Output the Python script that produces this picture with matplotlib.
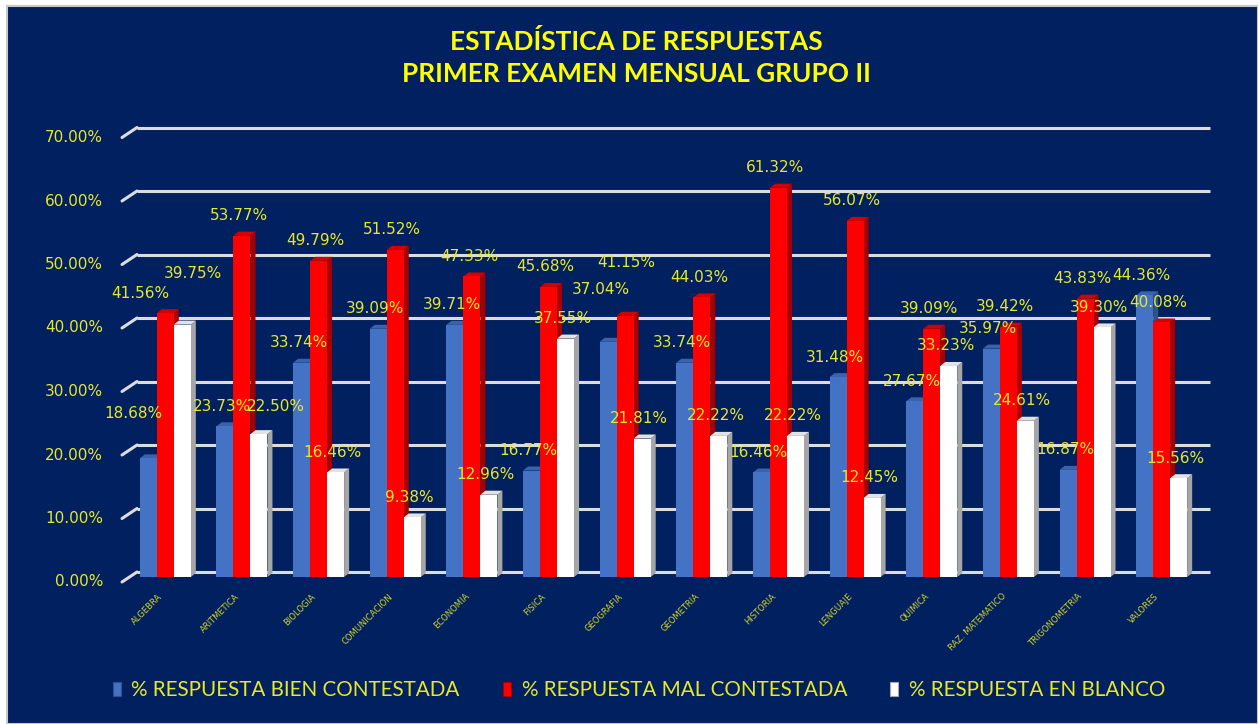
import matplotlib
matplotlib.use('Agg')
import matplotlib.pyplot as plt
from matplotlib.patches import Polygon, Rectangle, Patch
from matplotlib.transforms import ScaledTranslation

# ---------------- data ----------------
categories = ['ALGEBRA', 'ARITMETICA', 'BIOLOGIA', 'COMUNICACIÓN', 'ECONOMIA', 'FISICA',
              'GEOGRAFIA', 'GEOMETRIA', 'HISTORIA', 'LENGUAJE', 'QUIMICA',
              'RAZ. MATEMATICO', 'TRIGONOMETRIA', 'VALORES']
bien = [18.68, 23.73, 33.74, 39.09, 39.71, 16.77, 37.04, 33.74, 16.46, 31.48, 27.67, 35.97, 16.87, 44.36]
mal = [41.56, 53.77, 49.79, 51.52, 47.33, 45.68, 41.15, 44.03, 61.32, 56.07, 39.09, 39.42, 43.83, 40.08]
blanco = [39.75, 22.50, 16.46, 9.38, 12.96, 37.55, 21.81, 22.22, 22.22, 12.45, 33.23, 24.61, 39.30, 15.56]
series_names = ['% RESPUESTA BIEN CONTESTADA', '% RESPUESTA MAL CONTESTADA', '% RESPUESTA EN BLANCO']
yticks = [0, 10, 20, 30, 40, 50, 60, 70]
title_lines = ['ESTADÍSTICA DE RESPUESTAS', 'PRIMER EXAMEN MENSUAL GRUPO II']

# ---------------- style ----------------
W, H, DPI = 1258, 724, 100
NAVY = '#002060'
YEL = '#FFFF00'
LAB = '#E8E82A'
GRID = '#DCDCDC'
front_cols = ['#4472C4', '#FF0000', '#FFFFFF']
side_cols = ['#2F528F', '#A80000', '#A6A6A6']
top_cols = ['#3A63AC', '#D40000', '#E2E2E2']
# manual label nudges (image px, +y = down) for labels moved in the original
nudges = {(0, 0): (-12, -25), (0, 1): (-22, 0), (0, 2): (14, -31), (1, 2): (20, -8),
          (6, 0): (-4, -32), (6, 1): (4, -33)}

fig = plt.figure(figsize=(W / DPI, H / DPI), dpi=DPI)
fig.patch.set_facecolor('white')
fig.add_artist(Rectangle((7 / W, 0), (W - 7) / W, (H - 6) / H, transform=fig.transFigure,
                         facecolor=NAVY, edgecolor='#C8C8C8', lw=1.5, zorder=0))

x0, x1, y0, y1 = 137, 1210, 572, 127.5
ax = fig.add_axes([x0 / W, 1 - y0 / H, (x1 - x0) / W, (y0 - y1) / H])
ax.set_xlim(-0.5, 13.5)
ax.set_ylim(0, 70)
ax.axis('off')
px_x = (x1 - x0) / 14.0
px_y = (y0 - y1) / 70.0

# gridlines (back wall) + left diagonal + tick labels
for v in yticks:
    ax.plot([-0.5, 13.5], [v, v], color=GRID, lw=2.2, zorder=1, solid_capstyle='butt', clip_on=False)
    ax.annotate('', xy=(-0.5, v), xytext=(-15, -10), textcoords='offset pixels',
                arrowprops=dict(arrowstyle='-', color=GRID, lw=2.2, shrinkA=0, shrinkB=0),
                annotation_clip=False)
    ax.annotate(f'{v:.2f}%', xy=(-0.5, v), xytext=(-34, -10), textcoords='offset pixels',
                ha='right', va='center', fontsize=11, color=LAB, annotation_clip=False)

front = ax.transData + ScaledTranslation(-10 / DPI, -5 / DPI, fig.dpi_scale_trans)
bw = 17 / px_x
ddx, ddy = 5 / px_x, 4 / px_y
offsets = [-bw, 0.0, bw]
series = [bien, mal, blanco]
xs = list(range(len(categories)))

for s, vals in enumerate(series):
    bars = ax.bar([x + offsets[s] for x in xs], vals, width=bw, color=front_cols[s],
                  transform=front, linewidth=0, label=series_names[s], clip_on=False)
    for i, (patch, v) in enumerate(zip(bars.patches, vals)):
        z = 2 + (i * 3 + s) * 0.01
        patch.set_zorder(z)
        xc = i + offsets[s]
        xl, xr = xc - bw / 2, xc + bw / 2
        ax.add_patch(Polygon([(xr, 0), (xr, v), (xr + ddx, v + ddy), (xr + ddx, ddy)],
                             closed=True, facecolor=side_cols[s], lw=0, transform=front,
                             zorder=z - 0.003, clip_on=False))
        ax.add_patch(Polygon([(xl, v), (xr, v), (xr + ddx, v + ddy), (xl + ddx, v + ddy)],
                             closed=True, facecolor=top_cols[s], lw=0, transform=front,
                             zorder=z - 0.002, clip_on=False))
        nx, ny = nudges.get((i, s), (0, 0))
        ax.annotate(f'{v:.2f}%', xy=(xc, v), xycoords=front, xytext=(-3 + nx, 20 - ny),
                    textcoords='offset pixels', ha='center', va='center', fontsize=11,
                    color=LAB, zorder=10, annotation_clip=False)

for i, cat in enumerate(categories):
    ax.annotate(cat, xy=(i, 0), xycoords=front, xytext=(-4, -18), textcoords='offset pixels',
                rotation=45, rotation_mode='anchor', ha='right', va='center', fontsize=6,
                color='#D4D428', annotation_clip=False)

renderer = fig.canvas.get_renderer()


def fit_size(text, target_px, **kw):
    t = fig.text(0, 0, text, fontsize=10, **kw)
    w = t.get_window_extent(renderer).width
    t.remove()
    return 10 * target_px / w


tsize = fit_size(title_lines[0], 372, family='Lato', fontweight='bold')
fig.text(636 / W, 1 - 41 / H, title_lines[0], ha='center', va='center', fontsize=tsize,
         family='Lato', fontweight='bold', color=YEL)
fig.text(636 / W, 1 - 74 / H, title_lines[1], ha='center', va='center', fontsize=tsize,
         family='Lato', fontweight='bold', color=YEL)

lsize = fit_size(series_names[0], 326, family='Lato')
handles = [Patch(facecolor=front_cols[s], edgecolor=side_cols[s], lw=0.8) for s in range(3)]
fig.legend(handles, series_names, loc='center', bbox_to_anchor=(639 / W, 1 - 690 / H), ncol=3,
           frameon=False, prop=dict(family='Lato', size=lsize), labelcolor=LAB,
           handlelength=0.4, handleheight=0.65, handletextpad=0.5, columnspacing=2.1)

fig.savefig('out.png', dpi=DPI, facecolor=fig.get_facecolor())
